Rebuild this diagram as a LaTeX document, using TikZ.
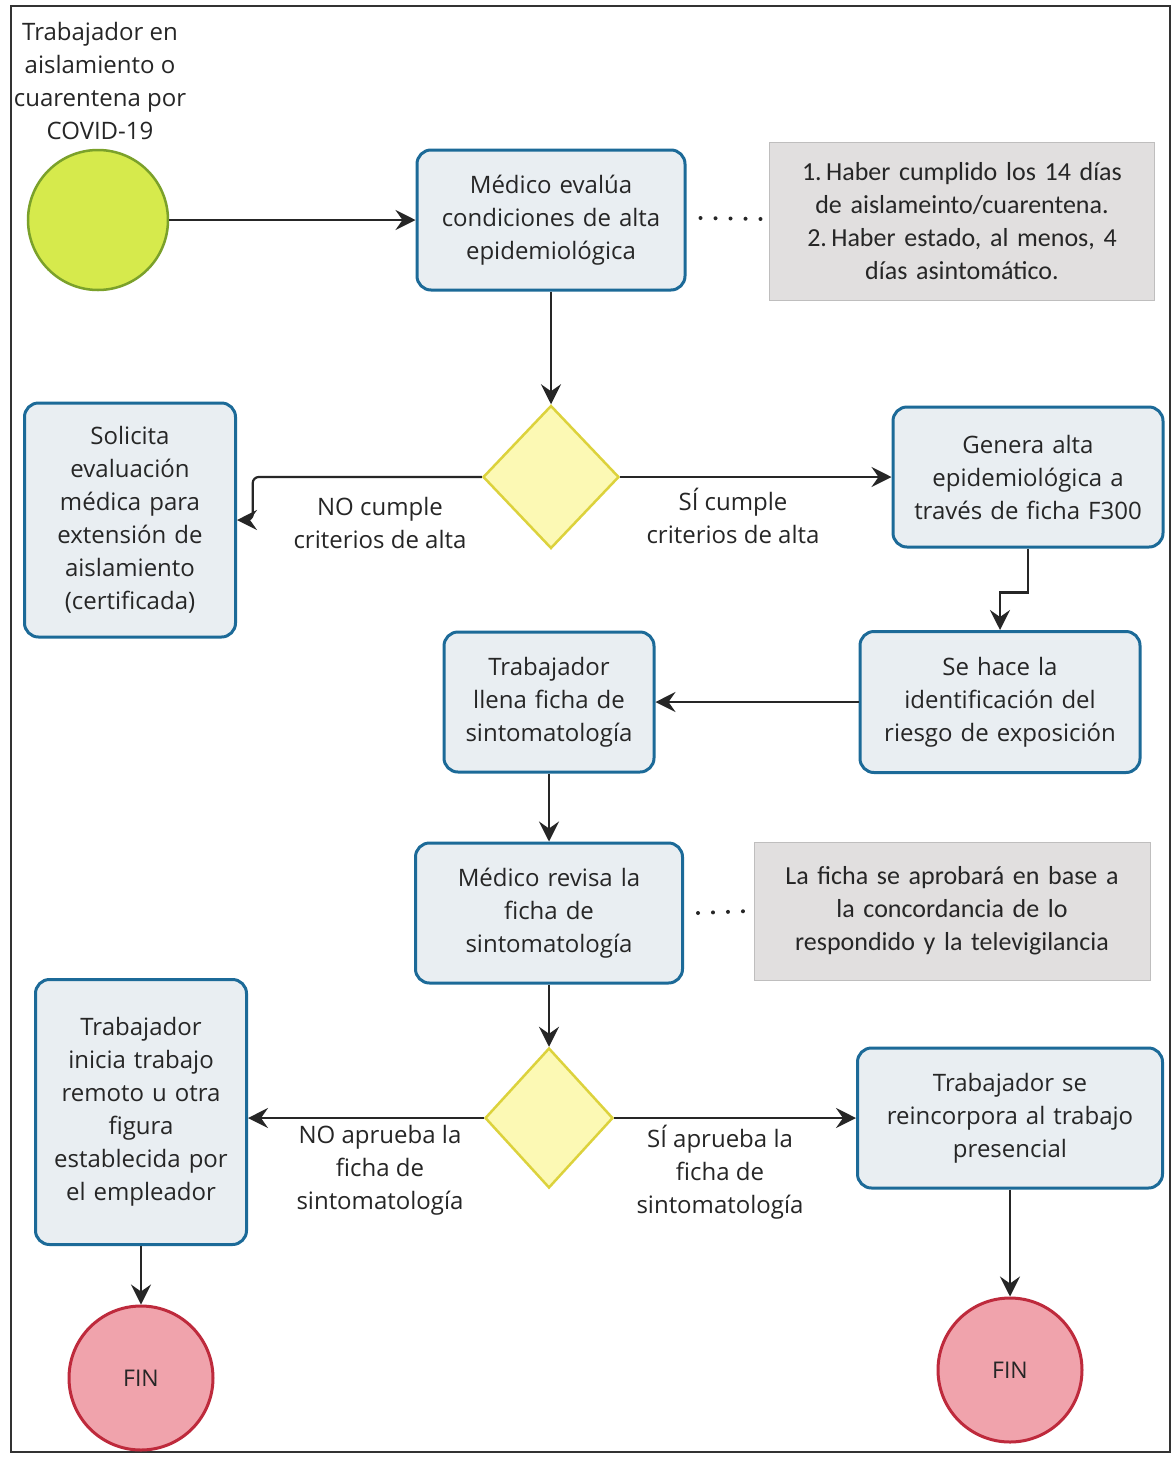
\documentclass[tikz,border=0pt]{standalone}
\usepackage{fontspec}
\setmainfont{Open Sans}
\newfontfamily\notefont{Carlito}
\usetikzlibrary{shapes.geometric,arrows.meta,calc}
\definecolor{boxfill}{HTML}{E9EEF2}
\definecolor{boxline}{HTML}{1C6A98}
\definecolor{dfill}{HTML}{FCF9B4}
\definecolor{dline}{HTML}{DCD23C}
\definecolor{sfill}{HTML}{D6EA4C}
\definecolor{sline}{HTML}{7BA12A}
\definecolor{ffill}{HTML}{F0A3AC}
\definecolor{fline}{HTML}{BE2A3C}
\definecolor{nfill}{HTML}{E1DFDF}
\definecolor{txt}{HTML}{262626}
\begin{document}
\begin{tikzpicture}[x=1pt,y=-1pt,
  every node/.style={text=txt,font=\fontsize{24}{33}\selectfont,align=center},
  task/.style={draw=boxline,fill=boxfill,line width=3pt,rounded corners=14pt,inner sep=2pt},
  notebox/.style={fill=nfill,draw=nfill!85!black,line width=0.8pt,inner sep=2pt,font=\notefont\fontsize{26}{33}\selectfont},
  gate/.style={shape=diamond,draw=dline,fill=dfill,line width=2.5pt,inner sep=0pt},
  startc/.style={circle,draw=sline,fill=sfill,line width=2.5pt,inner sep=0pt},
  endc/.style={circle,draw=fline,fill=ffill,line width=3pt,inner sep=0pt,font=\fontsize{23}{26}\selectfont},
  flow/.style={draw=black!85,line width=2.2pt,-{Stealth[length=20pt,width=20pt,inset=7pt]}},
  dotline/.style={draw=black!85,line width=4pt,dash pattern=on 0pt off 15pt,line cap=round},
  lbl/.style={inner sep=0pt}]
\useasboundingbox (0,0) rectangle (1173,1457);
\fill[white] (0,0) rectangle (1173,1457);
\draw[black!80,line width=2pt] (11,6) rectangle (1170,1452);

% start
\node[lbl] (startlbl) at (100,81) {Trabajador en\\aislamiento o\\cuarentena por\\COVID-19};
\node[startc,minimum size=140pt] (start) at (98,220) {};

% tasks
\node[task,minimum width=268pt,minimum height=140pt,text width=258pt] (evalua) at (551,220) {Médico evalúa\\condiciones de alta\\epidemiológica};
\node[notebox,minimum width=385pt,minimum height=158pt,text width=375pt] (note1) at (962,221) {1.\,Haber cumplido los 14 días\\de aislameinto/cuarentena.\\2.\,Haber estado, al menos, 4\\días asintomático.};

\node[gate,minimum width=136pt,minimum height=143pt] (d1) at (551,477) {};

\node[task,minimum width=211pt,minimum height=234pt,text width=205pt] (solicita) at (130,520) {Solicita\\evaluación\\médica para\\extensión de\\aislamiento\\(certificada)};
\node[task,minimum width=270pt,minimum height=140pt,text width=262pt] (genera) at (1028,477) {Genera alta\\epidemiológica a\\través de ficha F300};
\node[task,minimum width=280pt,minimum height=141pt,text width=272pt] (sehace) at (1000,702) {Se hace la\\identificación del\\riesgo de exposición};
\node[task,minimum width=210pt,minimum height=140pt,text width=204pt] (llena) at (549,702) {Trabajador\\llena ficha de\\sintomatología};
\node[task,minimum width=267pt,minimum height=140pt,text width=259pt] (revisa) at (549,913) {Médico revisa la\\ficha de\\sintomatología};
\node[notebox,minimum width=396pt,minimum height=138pt,text width=388pt] (note2) at (952,911) {La ficha se aprobará en base a\\la concordancia de lo\\respondido y la televigilancia};

\node[gate,minimum width=128pt,minimum height=140pt] (d2) at (549,1118) {};

\node[task,minimum width=211pt,minimum height=265pt,text width=205pt] (inicia) at (141,1112) {Trabajador\\inicia trabajo\\remoto u otra\\figura\\establecida por\\el empleador};
\node[task,minimum width=305pt,minimum height=140pt,text width=297pt] (reinc) at (1010,1118) {Trabajador se\\reincorpora al trabajo\\presencial};

\node[endc,minimum size=144pt] (fin1) at (141,1378) {FIN};
\node[endc,minimum size=144pt] (fin2) at (1010,1370) {FIN};

% connectors
\draw[flow] (start.east) -- (start.east -| evalua.west);
\draw[dotline] ($(evalua.east)+(14,-2)$) -- ($(note1.west)+(-8,-2)$);
\draw[flow] (evalua.south) -- (d1.north);
\draw[flow,rounded corners=6pt] (d1.west) -- ++(-229,0) |- (solicita.east);
\draw[flow] (d1.east) -- (genera.west);
\draw[flow] (genera.south) -- ++(0,44) -| (sehace.north);
\draw[flow] (sehace.west) -- (llena.east);
\draw[flow] (llena.south) -- (revisa.north);
\draw[dotline] ($(revisa.east)+(14,0)$) -- ($(note2.west)+(-4,0)$);
\draw[flow] (revisa.south) -- (d2.north);
\draw[flow] (d2.west) -- (inicia.east |- d2.west);
\draw[flow] (d2.east) -- (reinc.west |- d2.east);
\draw[flow] (inicia.south) -- (fin1.north);
\draw[flow] (reinc.south) -- (fin2.north);

% labels
\node[lbl] (l1) at (380,523) {NO cumple\\criterios de alta};
\node[lbl] (l2) at (733,516) {SÍ cumple\\criterios de alta};
\node[lbl] (l3) at (380,1170) {NO aprueba la\\ficha de\\sintomatología};
\node[lbl] (l4) at (720,1172) {SÍ aprueba la\\ficha de\\sintomatología};
\end{tikzpicture}
\end{document}
